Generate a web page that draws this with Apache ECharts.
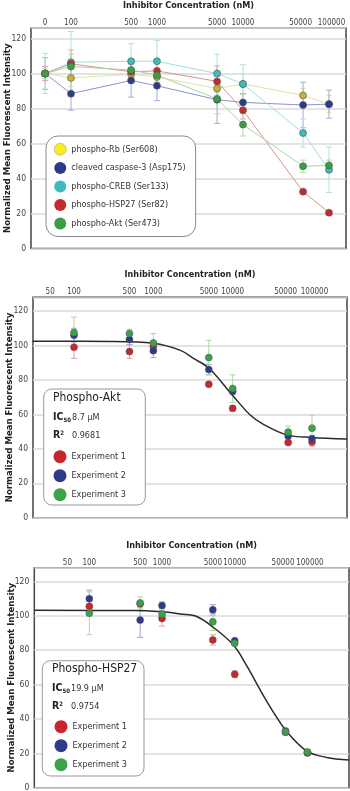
<!DOCTYPE html>
<html>
<head>
<meta charset="utf-8">
<script src="https://cdn.jsdelivr.net/npm/echarts@6/dist/echarts.min.js"></script>
<style>
html, body { margin: 0; padding: 0; background: #fff; }
#chart { width: 350px; height: 791px; }
</style>
</head>
<body>
<div id="chart"></div>
<script>
// values (normalized MFI, mean and error half-width)
let conc1 = [0, 100, 500, 1000, 5000, 10000, 50000, 100000]
let tickLabels1 = [0, 100, 500, 1000, 5000, 10000, 50000, 100000]
let rbMean = [100, 97.5, 99.5, 98, 91.5, 94, 87.5, 82.5]
let rbErr = [4, 5, 3, 3, 4, 6, 4, 5]
let casp3Mean = [100, 88.5, 96, 93, 85, 83.5, 82, 82.5]
let casp3Err = [9, 9.5, 9.5, 8.5, 13.5, 5, 13, 8]
let crebMean = [100, 106.5, 107, 107, 100, 94, 66, 45]
let crebErr = [11.5, 17.5, 10, 12, 11, 11, 8, 13]
let hsp27Mean = [100, 105.5, 101, 101.5, 95.5, 79, 32.5, 20.5]
let hsp27Err = [4, 8, 6, 5, 8.8, 5, 1, 1]
let aktMean = [100, 104, 102, 99, 85.5, 70.8, 47, 47.5]
let aktErr = [3, 7, 5, 4, 8.5, 6.5, 3.5, 3]

let conc2 = [100, 500, 1000, 5000, 10000, 50000, 100000]
let tickLabels2 = [50, 100, 500, 1000, 5000, 10000, 50000, 100000]
let akt1 = [99, 96.5, 99.5, 77.5, 63.5, 43.7, 44]
let akt1Err = [6.5, 4, 3, 1, 1.5, 1, 2.5]
let akt2 = [106, 103.5, 97, 86, 73.5, 47.5, 45.8]
let akt2Err = [4, 3, 4, 3, 2, 1.5, 2]
let akt3 = [107.5, 107, 101.5, 93, 75, 49.7, 52]
let akt3Err = [9, 2.5, 5.5, 10, 8, 3.5, 7.5]
// fitted curve
let aktFitConc = [30, 300, 1000, 2200, 3200, 5000, 10000, 16500, 24400, 48000, 100000, 276000]
let aktFitVal = [102.5, 102.4, 101.3, 97.2, 92.5, 86.9, 71, 59.8, 54.2, 48.1, 46.6, 45.7]

let hsp1 = [105.5, 107, 98.5, 86, 66, 32.3, 20.2]
let hsp1Err = [3, 2, 4.5, 3, 2, 1, 1]
let hsp2 = [110, 97.5, 106, 103.5, 85.5, 33, 20.5]
let hsp2Err = [5, 10, 2, 3, 1, 1, 1]
let hsp3 = [101.5, 107.5, 101, 96.5, 84, 32.5, 20.8]
let hsp3Err = [12.5, 3.5, 2, 5, 1, 1, 1]
let hspFitConc = [17.5, 400, 1000, 1800, 3000, 5000, 9600, 14600, 22300, 34000, 52000, 98000, 184000, 373000]
let hspFitVal = [103.2, 103.1, 102.3, 101, 99.6, 93.5, 83, 71, 57, 44, 32.6, 21.3, 17.6, 16.1]

let font = "'DejaVu Sans Condensed', 'Liberation Sans Narrow', 'Liberation Sans', sans-serif"

// log10 scale; the 0 column is drawn at the 50 nM spot like in the figure
function lx(c) {
  return c === 0 ? Math.log10(50) : Math.log10(c)
}

function xAxisFor(idx, labels, min, max) {
  let pos = labels.map(lx)
  // blank stops at both ends so the end-label overlap check never drops a real label
  let stops = [min].concat(pos, [max])
  return {
    type: 'value', gridIndex: idx, position: 'top', min: min, max: max,
    name: 'Inhibitor Concentration (nM)', nameLocation: 'middle', nameGap: 18,
    nameMoveOverlap: false,
    nameTextStyle: {fontFamily: font, fontWeight: 'bold', fontSize: 9, color: '#222'},
    axisLine: {show: false}, axisTick: {show: false}, splitLine: {show: false},
    axisLabel: {
      customValues: stops, margin: 1, fontSize: 8, color: '#444', fontFamily: font,
      hideOverlap: false,
      // the last two labels sit close, nudge them apart a little
      rich: {
        l: {fontSize: 8, color: '#444', fontFamily: font, padding: [0, 5, 0, 0]},
        r: {fontSize: 8, color: '#444', fontFamily: font, padding: [0, 0, 0, 5]}
      },
      formatter: function(v) {
        let i = pos.findIndex(p => Math.abs(p - v) < 1e-6)
        if (i < 0) return ''
        if (i === pos.length - 2) return '{l|' + labels[i] + '}'
        if (i === pos.length - 1) return '{r|' + labels[i] + '}'
        return String(labels[i])
      }
    }
  }
}

function yAxisFor(idx, max) {
  return {
    type: 'value', gridIndex: idx, min: 0, max: max, interval: 20,
    name: 'Normalized Mean Fluorescent Intensity', nameLocation: 'middle', nameGap: 18,
    nameMoveOverlap: false,
    nameTextStyle: {fontFamily: font, fontWeight: 'bold', fontSize: 9.5, color: '#222'},
    axisLine: {show: false}, axisTick: {show: false},
    axisLabel: {margin: 5, fontSize: 8.5, color: '#444', fontFamily: font,
      showMaxLabel: false},
    splitLine: {lineStyle: {color: '#dadada', width: 1.5}}
  }
}

function errSeries(idx, conc, mean, err, color) {
  return {
    type: 'custom', name: 'err' + idx + color, xAxisIndex: idx, yAxisIndex: idx, z: 2, silent: true,
    data: conc.map((c, i) => [lx(c), mean[i] - err[i], mean[i] + err[i]]),
    encode: {x: 0, y: [1, 2]},
    renderItem: function(params, api) {
      let top = api.coord([api.value(0), api.value(2)])
      let bot = api.coord([api.value(0), api.value(1)])
      let w = 3
      let st = {stroke: color, lineWidth: 1}
      return {type: 'group', children: [
        {type: 'line', shape: {x1: top[0], y1: top[1], x2: bot[0], y2: bot[1]}, style: st},
        {type: 'line', shape: {x1: top[0] - w, y1: top[1], x2: top[0] + w, y2: top[1]}, style: st},
        {type: 'line', shape: {x1: bot[0] - w, y1: bot[1], x2: bot[0] + w, y2: bot[1]}, style: st}
      ]}
    }
  }
}

function lineSeries(name, mean, color, lineColor) {
  return {
    type: 'line', name: name, xAxisIndex: 0, yAxisIndex: 0, z: 3,
    data: conc1.map((c, i) => [lx(c), mean[i]]),
    symbol: 'circle', symbolSize: 7,
    itemStyle: {color: color, borderColor: '#555', borderWidth: 0.6},
    lineStyle: {color: lineColor, width: 1}
  }
}

function dotSeries(name, idx, conc, vals, color) {
  return {
    type: 'scatter', name: name, xAxisIndex: idx, yAxisIndex: idx, z: 4,
    data: conc.map((c, i) => [lx(c), vals[i]]),
    symbol: 'circle', symbolSize: 7,
    itemStyle: {color: color, borderColor: '#555', borderWidth: 0.5, opacity: 1}
  }
}

function fitSeries(idx, conc, vals) {
  return {
    type: 'line', name: 'fit' + idx, xAxisIndex: idx, yAxisIndex: idx, z: 3,
    data: conc.map((c, i) => [lx(c), vals[i]]),
    symbol: 'none', smooth: 0.35,
    lineStyle: {color: '#2a2a2a', width: 1.5}
  }
}

function expLegend(top, left) {
  return {
    orient: 'vertical', left: left, top: top, padding: 0, itemGap: 6,
    itemWidth: 13, itemHeight: 13, icon: 'circle', selectedMode: false, z: 6,
    textStyle: {fontFamily: font, fontSize: 9, color: '#333'},
    data: [
      {name: 'Experiment 1', itemStyle: {color: '#c8262c', borderWidth: 0}},
      {name: 'Experiment 2', itemStyle: {color: '#2e3a8e', borderWidth: 0}},
      {name: 'Experiment 3', itemStyle: {color: '#3aa34a', borderWidth: 0}}
    ]
  }
}

function infoTitles(left, top, name, ic50, r2) {
  let rich = {
    b: {fontFamily: font, fontWeight: 'bold', fontSize: 10.5, color: '#222'},
    s: {fontFamily: font, fontWeight: 'bold', fontSize: 6, color: '#222', padding: [5, 0, 0, 0]},
    p: {fontFamily: font, fontWeight: 'bold', fontSize: 6, color: '#222', padding: [0, 0, 4, 0]}
  }
  let val = {fontFamily: font, fontSize: 9, fontWeight: 'normal', color: '#333'}
  return [
    {text: name, left: left, top: top, padding: 0,
      textStyle: {fontFamily: font, fontSize: 12, fontWeight: 'normal', color: '#222'}},
    {text: '{b|IC}{s|50}', left: left, top: top + 20, padding: 0, textStyle: {rich: rich}},
    {text: ic50, left: left + 19, top: top + 21.5, padding: 0, textStyle: val},
    {text: '{b|R}{p|2}', left: left, top: top + 38, padding: 0, textStyle: {rich: rich}},
    {text: r2, left: left + 19, top: top + 39.5, padding: 0, textStyle: val}
  ]
}

function gridAt(left, top, width, height) {
  return {left: left, top: top, width: width, height: height, outerBoundsMode: 'none',
    containLabel: false, show: true, borderColor: '#444', borderWidth: 1.5}
}

let chart = echarts.init(document.getElementById('chart'))
let option = {
  backgroundColor: '#fff',
  animation: false,
  textStyle: {fontFamily: font},
  title: [].concat(
    infoTitles(53, 392, 'Phospho-Akt', '8.7 µM', '0.9681'),
    infoTitles(52, 663, 'Phospho-HSP27', '19.9 µM', '0.9754')
  ),
  grid: [
    gridAt(31, 28, 315, 220.5),
    gridAt(33, 297.3, 314, 220.4),
    gridAt(34.3, 567.7, 314.7, 220)
  ],
  xAxis: [
    xAxisFor(0, tickLabels1, 1.535, 5.198),
    xAxisFor(1, tickLabels2, 1.483, 5.441),
    xAxisFor(2, tickLabels2, 1.243, 5.572)
  ],
  yAxis: [yAxisFor(0, 126), yAxisFor(1, 128), yAxisFor(2, 128)],
  legend: [
    {
      orient: 'vertical', left: 46, top: 136, padding: [7, 10, 7, 8], itemGap: 6.5,
      itemWidth: 12, itemHeight: 12, icon: 'circle', selectedMode: false, z: 6,
      backgroundColor: '#fff', borderColor: '#8a8a8a', borderWidth: 1, borderRadius: 12,
      textStyle: {fontFamily: font, fontSize: 9, color: '#333'},
      data: [
        {name: 'phospho-Rb (Ser608)', itemStyle: {color: '#f8ec1f', borderColor: '#999', borderWidth: 0.5}},
        {name: 'cleaved caspase-3 (Asp175)', itemStyle: {color: '#2d3a8c', borderWidth: 0}},
        {name: 'phospho-CREB (Ser133)', itemStyle: {color: '#3cbcbc', borderWidth: 0}},
        {name: 'phospho-HSP27 (Ser82)', itemStyle: {color: '#c52a2e', borderWidth: 0}},
        {name: 'phospho-Akt (Ser473)', itemStyle: {color: '#3b9e45', borderWidth: 0}}
      ]
    },
    expLegend(450.2, 53.5),
    expLegend(720.2, 54.5)
  ],
  graphic: [
    {type: 'rect', z: 5, shape: {x: 43.7, y: 389, width: 101.6, height: 116, r: 8},
      style: {fill: '#fff', stroke: '#999', lineWidth: 1}},
    {type: 'rect', z: 5, shape: {x: 42.3, y: 660.7, width: 101.7, height: 115.3, r: 8},
      style: {fill: '#fff', stroke: '#999', lineWidth: 1}}
  ],
  series: [
    errSeries(0, conc1, rbMean, rbErr, '#e0e5b0'),
    errSeries(0, conc1, casp3Mean, casp3Err, '#a8a8d8'),
    errSeries(0, conc1, crebMean, crebErr, '#aee0e0'),
    errSeries(0, conc1, hsp27Mean, hsp27Err, '#dcaaaa'),
    errSeries(0, conc1, aktMean, aktErr, '#b6dcb0'),
    lineSeries('phospho-Rb (Ser608)', rbMean, '#c4b232', '#dfe5a8'),
    lineSeries('cleaved caspase-3 (Asp175)', casp3Mean, '#2d3a8c', '#9090cc'),
    lineSeries('phospho-CREB (Ser133)', crebMean, '#3cbcbc', '#a3dede'),
    lineSeries('phospho-HSP27 (Ser82)', hsp27Mean, '#c52a2e', '#d49494'),
    lineSeries('phospho-Akt (Ser473)', aktMean, '#3b9e45', '#a9d3a3'),

    fitSeries(1, aktFitConc, aktFitVal),
    errSeries(1, conc2, akt1, akt1Err, '#d9a3a3'),
    errSeries(1, conc2, akt2, akt2Err, '#a2a2d4'),
    errSeries(1, conc2, akt3, akt3Err, '#a9d9a3'),
    dotSeries('Experiment 1', 1, conc2, akt1, '#c8262c'),
    dotSeries('Experiment 2', 1, conc2, akt2, '#2e3a8e'),
    dotSeries('Experiment 3', 1, conc2, akt3, '#3aa34a'),

    fitSeries(2, hspFitConc, hspFitVal),
    errSeries(2, conc2, hsp1, hsp1Err, '#d9a3a3'),
    errSeries(2, conc2, hsp2, hsp2Err, '#a2a2d4'),
    errSeries(2, conc2, hsp3, hsp3Err, '#a9d9a3'),
    dotSeries('Experiment 1', 2, conc2, hsp1, '#c8262c'),
    dotSeries('Experiment 2', 2, conc2, hsp2, '#2e3a8e'),
    dotSeries('Experiment 3', 2, conc2, hsp3, '#3aa34a')
  ]
}
chart.setOption(option)
</script>
</body>
</html>
